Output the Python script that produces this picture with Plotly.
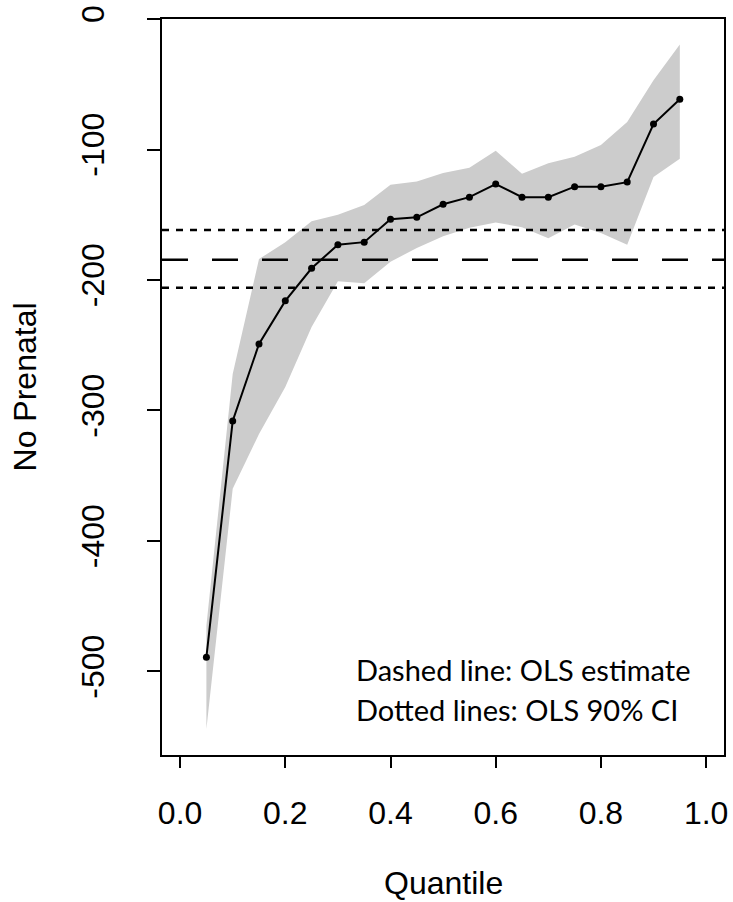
import plotly.graph_objects as go

# ---- data ----
quantiles = [0.05, 0.10, 0.15, 0.20, 0.25, 0.30, 0.35, 0.40, 0.45, 0.50,
             0.55, 0.60, 0.65, 0.70, 0.75, 0.80, 0.85, 0.90, 0.95]
estimate = [-489, -308, -249, -216, -191, -173, -171, -153.5, -152, -142,
            -136.5, -126.5, -136.5, -136.5, -128.5, -128.5, -125, -80.5, -61.5]
upper_ci = [-465, -272, -184, -171, -155, -150, -142.5, -127, -124.5, -118,
            -114, -101, -118.5, -110.5, -105.5, -96.5, -79, -47, -19.5]
lower_ci = [-544, -360, -318, -282, -236, -201, -202.5, -186, -175.5, -166.5,
            -160, -156, -159.5, -168, -157.5, -164, -173, -121, -107]

ols_estimate = -184.5
ols_ci = [-161.7, -206.0]

x_tick_vals = [0.0, 0.2, 0.4, 0.6, 0.8, 1.0]
x_tick_labels = ["0.0", "0.2", "0.4", "0.6", "0.8", "1.0"]
y_tick_vals = [0, -100, -200, -300, -400, -500]
y_tick_labels = ["0", "-100", "-200", "-300", "-400", "-500"]

x_title = "Quantile"
y_title = "No Prenatal"
note_lines = ["Dashed line: OLS estimate", "Dotted lines: OLS 90% CI"]

# ---- figure ----
AX_FONT = dict(family="Liberation Sans, Arial, sans-serif", size=32, color="black")

fig = go.Figure()

fig.add_trace(go.Scatter(
    x=quantiles + quantiles[::-1],
    y=upper_ci + lower_ci[::-1],
    fill="toself", fillcolor="#CCCCCC",
    line=dict(width=0), mode="lines", hoverinfo="skip",
))

fig.add_trace(go.Scatter(
    x=quantiles, y=estimate, mode="lines+markers",
    line=dict(color="black", width=2),
    marker=dict(color="black", size=7),
))

fig.add_hline(y=ols_estimate, line=dict(color="black", width=2.5, dash="26px,24px"))
for v in ols_ci:
    fig.add_hline(y=v, line=dict(color="black", width=2.5, dash="7px,7px"))

# note text
note_y = [-498.5, -529]
for txt, yy in zip(note_lines, note_y):
    fig.add_annotation(x=0.33, y=yy, xref="x", yref="y", text=txt,
                       showarrow=False, xanchor="left", yanchor="middle",
                       font=dict(family="Lato, Carlito, sans-serif", size=29, color="black"))

# axis titles
fig.add_annotation(x=0.5, y=-0.1745, xref="paper", yref="paper", text=x_title,
                   showarrow=False, xanchor="center", yanchor="middle", font=AX_FONT)
fig.add_annotation(x=-0.243, y=0.5, xref="paper", yref="paper", text=y_title,
                   showarrow=False, xanchor="center", yanchor="middle",
                   textangle=-90, font=AX_FONT)

fig.update_layout(
    width=733, height=902, autosize=False,
    margin=dict(l=162, r=5, t=15, b=147),
    paper_bgcolor="white", plot_bgcolor="white",
    showlegend=False,
    xaxis=dict(
        range=[-0.0344, 1.034], tickmode="array",
        tickvals=x_tick_vals, ticktext=x_tick_labels,
        showgrid=False, zeroline=False,
        showline=True, mirror=True, linecolor="black", linewidth=2,
        ticks="outside", ticklen=11, tickwidth=2, tickcolor="black",
        tickfont=AX_FONT, ticklabelstandoff=18,
    ),
    yaxis=dict(
        range=[-564, 0], tickmode="array",
        tickvals=y_tick_vals, ticktext=y_tick_labels, tickangle=-90,
        showgrid=False, zeroline=False,
        showline=True, mirror=True, linecolor="black", linewidth=2,
        ticks="outside", ticklen=13, tickwidth=2, tickcolor="black",
        tickfont=AX_FONT, ticklabelstandoff=30,
    ),
)

fig.write_html("out.html", config={"displayModeBar": False},
               post_script="document.body.style.margin='0';document.body.style.overflow='hidden';")
